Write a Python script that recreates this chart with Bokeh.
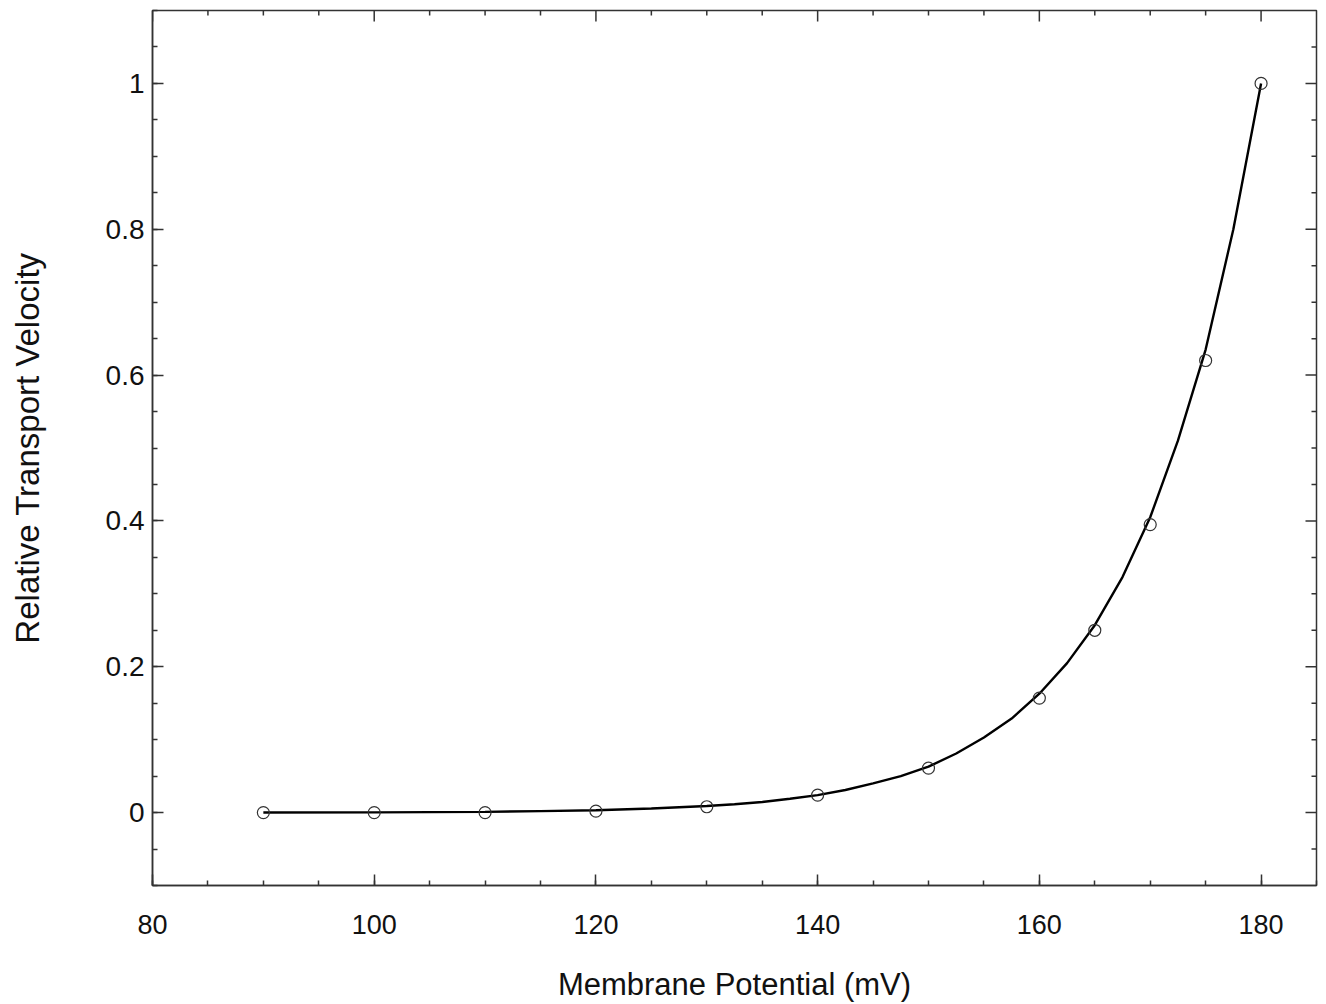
import math
from bokeh.plotting import figure
from bokeh.models import LinearAxis, SingleIntervalTicker, Range1d
from bokeh.embed import file_html
from bokeh.resources import INLINE

# measured data points
potential_mv = [90, 100, 110, 120, 130, 140, 150, 160, 165, 170, 175, 180]
velocity = [0.0, 0.0, 0.0, 0.002, 0.008, 0.024, 0.061, 0.157, 0.25, 0.395, 0.62, 1.0]

# fitted curve
curve_mv = [90, 100, 110, 115, 120, 125, 130, 132.5, 135, 137.5, 140, 142.5,
            145, 147.5, 150, 152.5, 155, 157.5, 160, 162.5, 165, 167.5, 170,
            172.5, 175, 177.5, 180]
curve_v = [0.0001, 0.0003, 0.001, 0.002, 0.0032, 0.0055, 0.009, 0.0115, 0.0145,
           0.019, 0.024, 0.031, 0.040, 0.050, 0.063, 0.081, 0.103, 0.129,
           0.163, 0.205, 0.257, 0.323, 0.405, 0.51, 0.635, 0.80, 1.0]

# axis ticks
x_major = [80, 100, 120, 140, 160, 180]
x_minor = [85, 90, 95, 105, 110, 115, 125, 130, 135, 145, 150, 155, 165, 170, 175]
y_major = [0, 0.2, 0.4, 0.6, 0.8, 1.0]
y_minor = [-0.05, 0.05, 0.1, 0.15, 0.25, 0.3, 0.35, 0.45, 0.5, 0.55, 0.65,
           0.7, 0.75, 0.85, 0.9, 0.95, 1.05]

x_label = "Membrane Potential (mV)"
y_label = "Relative Transport Velocity"

FONT = "Liberation Sans"
X_MIN, X_MAX, Y_MIN, Y_MAX = 80, 185, -0.1, 1.1
AX = "#333333"

p = figure(width=1326, height=1004, output_backend="svg", toolbar_location=None,
           x_range=Range1d(X_MIN, X_MAX), y_range=Range1d(Y_MIN, Y_MAX),
           x_axis_location=None, y_axis_location=None,
           min_border_left=152, min_border_right=10, min_border_top=10,
           min_border_bottom=118)
p.grid.visible = False
p.outline_line_color = AX
p.outline_line_width = 1.5
p.background_fill_color = "white"
p.border_fill_color = "white"


def style_axis(ax):
    ax.axis_line_color = AX
    ax.axis_line_width = 1.5
    ax.major_tick_in = 11
    ax.major_tick_out = 0
    ax.minor_tick_in = 5
    ax.minor_tick_out = 0
    ax.major_tick_line_color = AX
    ax.minor_tick_line_color = AX
    ax.major_tick_line_width = 1.5
    ax.minor_tick_line_width = 1.5
    ax.major_label_text_font = FONT
    ax.major_label_text_color = "#111111"
    ax.axis_label_text_font = FONT
    ax.axis_label_text_font_style = "normal"
    ax.axis_label_text_color = "#111111"


xb = LinearAxis(ticker=SingleIntervalTicker(interval=20, num_minor_ticks=4))
style_axis(xb)
xb.axis_label = x_label
xb.major_label_text_font_size = "27px"
xb.axis_label_text_font_size = "31px"
xb.major_label_standoff = 29
xb.axis_label_standoff = 30
p.add_layout(xb, "below")

yl = LinearAxis(ticker=SingleIntervalTicker(interval=0.2, num_minor_ticks=4))
style_axis(yl)
yl.axis_label = y_label
yl.major_label_text_font_size = "28px"
yl.axis_label_text_font_size = "33px"
yl.major_label_standoff = 8
yl.axis_label_standoff = 57
yl.major_label_overrides = {0: "0", 1: "1"}
p.add_layout(yl, "left")

# inward ticks on the top and right frame edges
p.ray(x=x_major, y=[Y_MAX] * len(x_major), length=11, length_units="screen",
      angle=-math.pi / 2, line_color=AX, line_width=1.5)
p.ray(x=x_minor, y=[Y_MAX] * len(x_minor), length=5, length_units="screen",
      angle=-math.pi / 2, line_color=AX, line_width=1.5)
p.ray(x=[X_MAX] * len(y_major), y=y_major, length=11, length_units="screen",
      angle=math.pi, line_color=AX, line_width=1.5)
p.ray(x=[X_MAX] * len(y_minor), y=y_minor, length=5, length_units="screen",
      angle=math.pi, line_color=AX, line_width=1.5)

p.line(curve_mv, curve_v, line_color="black", line_width=2.4)
p.scatter(potential_mv, velocity, marker="circle", size=12, fill_color=None,
          line_color="#333333", line_width=1.2)

open("out.html", "w").write(file_html(p, INLINE))
